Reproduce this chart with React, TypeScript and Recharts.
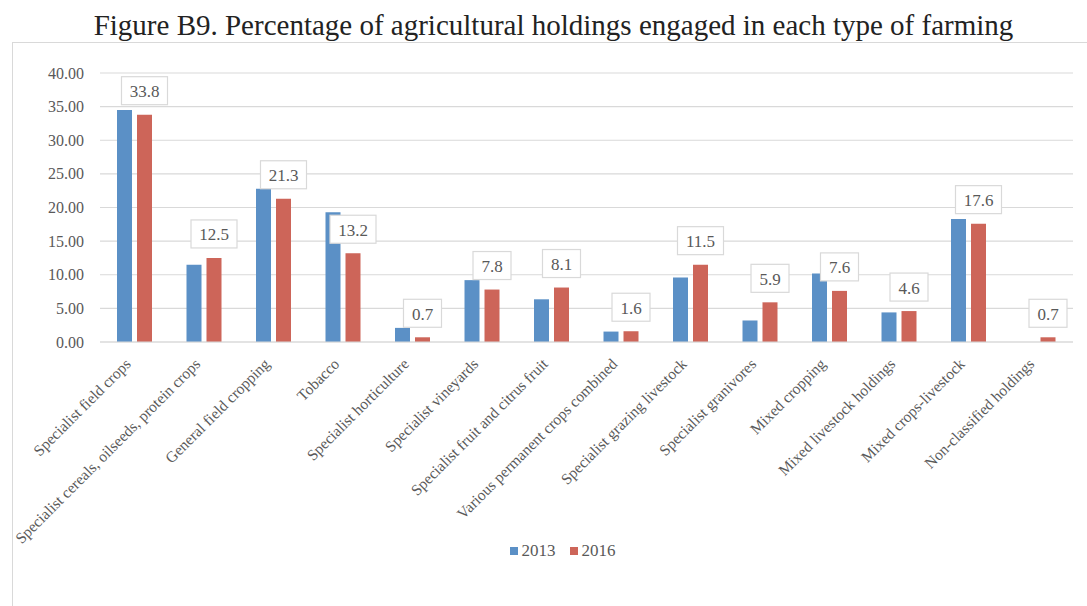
import React from 'react';
import { BarChart, Bar, XAxis, YAxis, CartesianGrid, LabelList, Legend } from 'recharts';

const categories = [
  'Specialist field crops',
  'Specialist cereals, oilseeds, protein crops',
  'General field cropping',
  'Tobacco',
  'Specialist horticulture',
  'Specialist vineyards',
  'Specialist fruit and citrus fruit',
  'Various permanent crops combined',
  'Specialist grazing livestock',
  'Specialist granivores',
  'Mixed cropping',
  'Mixed livestock holdings',
  'Mixed crops-livestock',
  'Non-classified holdings',
];
const values2013 = [34.5, 11.5, 22.8, 19.3, 2.1, 9.2, 6.35, 1.55, 9.6, 3.2, 10.2, 4.4, 18.3, 0];
const values2016 = [33.8, 12.5, 21.3, 13.2, 0.7, 7.8, 8.1, 1.6, 11.5, 5.9, 7.6, 4.6, 17.6, 0.7];
const yTicks = [0, 5, 10, 15, 20, 25, 30, 35, 40];
const seriesNames = ['2013', '2016'];
const seriesColors = ['#5B90C6', '#CD6559'];
const title = 'Figure B9. Percentage of agricultural holdings engaged in each type of farming';

const data = categories.map((c, i) => ({ name: c, s2013: values2013[i], s2016: values2016[i] }));

const FONT = "'Liberation Serif', 'Times New Roman', serif";
const GREY_TEXT = '#595959';
const GRID = '#D9D9D9';

const XTick = (props: any) => {
  const { x, y, payload } = props;
  return (
    <g transform={`translate(${x - 3},${y + 15})`}>
      <text
        x={0}
        y={0}
        transform="rotate(-45)"
        textAnchor="end"
        fontFamily={FONT}
        fontSize={15.5}
        fill={GREY_TEXT}
      >
        {payload.value}
      </text>
    </g>
  );
};

const YTick = (props: any) => {
  const { x, y, payload } = props;
  return (
    <text x={x} y={y} textAnchor="end" dominantBaseline="central" fontFamily={FONT} fontSize={16} fill={GREY_TEXT}>
      {Number(payload.value).toFixed(2)}
    </text>
  );
};

const BoxLabel = (props: any) => {
  const { x, y, width, value } = props;
  const txt = String(value);
  let tw = 0;
  for (const ch of txt) tw += ch === '.' ? 4 : 8;
  const w = tw + 18;
  const h = 28;
  const cx = x + width / 2;
  const bottom = y - 10;
  return (
    <g>
      <rect x={cx - w / 2} y={bottom - h} width={w} height={h} fill="#ffffff" stroke={GRID} strokeWidth={1.2} />
      <text
        x={cx}
        y={bottom - h / 2 + 1}
        textAnchor="middle"
        dominantBaseline="central"
        fontFamily={FONT}
        fontSize={17}
        fill={GREY_TEXT}
      >
        {txt}
      </text>
    </g>
  );
};

const LegendContent = () => (
  <div
    style={{
      height: 30,
      display: 'flex',
      justifyContent: 'center',
      alignItems: 'center',
      paddingLeft: 42,
      fontFamily: FONT,
      fontSize: 17,
      color: GREY_TEXT,
    }}
  >
    {seriesNames.map((n, i) => (
      <div key={n} style={{ display: 'flex', alignItems: 'center', marginRight: i === 0 ? 14 : 0 }}>
        <span style={{ display: 'inline-block', width: 8, height: 8, background: seriesColors[i], marginRight: 4 }} />
        <span>{n}</span>
      </div>
    ))}
  </div>
);

export default function App() {
  return (
    <div style={{ position: 'absolute', left: 0, top: 0, width: 1087, height: 606, background: '#fff', overflow: 'hidden' }}>
      <div
        style={{
          position: 'absolute',
          left: 12,
          top: 42,
          width: 1075,
          height: 564,
          borderLeft: `1px solid ${GRID}`,
          borderTop: `1px solid ${GRID}`,
          boxSizing: 'border-box',
        }}
      />
      <div
        style={{
          position: 'absolute',
          left: 20,
          top: 6,
          width: 1067,
          textAlign: 'center',
          fontFamily: FONT,
          fontSize: 29,
          color: '#222',
          lineHeight: '38px',
          whiteSpace: 'nowrap',
        }}
      >
        {title}
      </div>
      <div style={{ position: 'absolute', left: 0, top: 0 }}>
        <BarChart
          width={1087}
          height={606}
          data={data}
          margin={{ top: 73, right: 14, left: 10, bottom: 40 }}
          barSize={15}
          barGap={5}
        >
          <CartesianGrid vertical={false} stroke={GRID} strokeWidth={1.2} />
          <XAxis
            dataKey="name"
            interval={0}
            height={194}
            tick={<XTick />}
            tickLine={false}
            axisLine={{ stroke: GRID, strokeWidth: 1.2 }}
          />
          <YAxis
            width={90}
            domain={[0, 40]}
            ticks={yTicks}
            tickLine={false}
            tickSize={0}
            tickMargin={16}
            axisLine={false}
            tick={<YTick />}
          />
          <Legend verticalAlign="bottom" content={<LegendContent />} wrapperStyle={{ height: 30 }} />
          <Bar dataKey="s2013" name={seriesNames[0]} fill={seriesColors[0]} isAnimationActive={false} />
          <Bar dataKey="s2016" name={seriesNames[1]} fill={seriesColors[1]} isAnimationActive={false}>
            <LabelList dataKey="s2016" content={<BoxLabel />} />
          </Bar>
        </BarChart>
      </div>
    </div>
  );
}
